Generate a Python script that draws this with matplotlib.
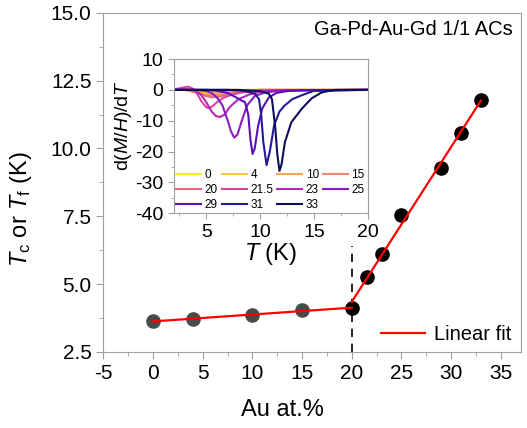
import numpy as np
import matplotlib
matplotlib.use('Agg')
import matplotlib.pyplot as plt
from matplotlib.ticker import MultipleLocator, AutoMinorLocator

plt.rcParams['font.family'] = ['Liberation Sans', 'DejaVu Sans']
plt.rcParams['mathtext.fontset'] = 'custom'
plt.rcParams['mathtext.rm'] = 'Liberation Sans'
plt.rcParams['mathtext.it'] = 'Liberation Sans:italic'
plt.rcParams['axes.unicode_minus'] = False

# main data: transition temperature vs Au content
au = [0, 4, 10, 15, 20, 21.5, 23, 25, 29, 31, 33]
tc = [3.63, 3.71, 3.86, 4.04, 4.11, 5.26, 6.10, 7.55, 9.28, 10.57, 11.80]

# inset: d(M/H)/dT curves, one per composition
labels = ['0', '4', '10', '15', '20', '21.5', '23', '25', '29', '31', '33']
colors = ['#f2f01e', '#f8c848', '#f9a452', '#f28670', '#e46a7c', '#d8489a',
          '#b428b4', '#8a1cc4', '#5a10b4', '#241a94', '#0e0e58']
T0 = [2, 3, 3.5, 4, 4.5, 5, 6, 8, 20]
d0 = [0, 0, -0.2, -0.5, -0.4, -0.2, -0.1, 0, 0]
T4 = [2, 3, 3.5, 4.2, 5, 6, 7, 9, 20]
d4 = [0, 0, -0.4, -1.0, -0.8, -0.5, -0.2, 0, 0]
T10 = [2, 3, 4, 4.8, 5.5, 6.5, 8, 10, 20]
d10 = [0, 0, -0.6, -1.5, -1.3, -0.8, -0.3, 0, 0]
T15 = [2, 3, 4, 5, 5.8, 7, 8.5, 10, 20]
d15 = [0, 0.1, -0.8, -1.9, -1.8, -1.2, -0.5, -0.1, 0]
T20 = [2, 3, 4, 4.8, 5.5, 6.2, 7, 8.5, 10, 20]
d20 = [0, 0.2, -0.6, -1.8, -2.4, -2.2, -1.6, -0.7, -0.2, 0]
T21 = [2, 2.5, 3, 3.4, 3.8, 4.2, 4.6, 5.0, 5.2, 5.5, 6, 6.5, 7, 8, 9, 10, 20]
d21 = [0.2, 0.5, 0.9, 1.0, 0.3, -1.5, -4, -5.6, -5.9, -5.5, -4, -2.8, -2, -1, -0.4, 0, 0]
T23 = [2, 3, 3.5, 4, 4.5, 5, 5.5, 5.9, 6.3, 6.7, 7.2, 8, 9, 10, 11, 20]
d23 = [0, 0.2, 0.1, -0.3, -1.5, -4, -7, -8.5, -8.8, -8, -5.5, -3, -1.5, -0.6, -0.2, 0]
T25 = [2, 4, 5, 5.5, 6, 6.5, 7, 7.3, 7.6, 7.9, 8.3, 8.8, 9.5, 10.5, 12, 20]
d25 = [0, 0, -0.4, -1, -2.5, -5, -10, -13.5, -15.5, -14.5, -10, -5, -2, -0.8, -0.2, 0]
T29 = [2, 5, 6, 7, 7.8, 8.3, 8.6, 8.9, 9.1, 9.3, 9.5, 9.8, 10.2, 10.8, 11.5, 12.5, 14, 20]
d29 = [0, 0, -0.3, -1, -2.5, -3.5, -4, -8, -16, -20.8, -19, -12, -6, -2.5, -1, -0.4, -0.1, 0]
T31 = [2, 7, 8.5, 9.5, 9.9, 10.1, 10.3, 10.6, 10.9, 11.3, 11.8, 12.3, 13, 13.9, 15, 20]
d31 = [0, 0, -0.3, -1.2, -3, -8, -17, -24.4, -20, -11.5, -7, -5, -3, -1.7, -0.3, 0]
T33 = [2, 8, 10, 10.8, 11.1, 11.4, 11.6, 11.8, 12.0, 12.3, 12.9, 13.9, 14.8, 15.4, 15.6, 16, 17, 20]
d33 = [0, 0, -0.4, -1.2, -3, -12, -21, -26.3, -24, -17, -10.5, -6, -2.7, -1.5, -1, -0.6, 0, 0]
Tlist = [T0, T4, T10, T15, T20, T21, T23, T25, T29, T31, T33]
dlist = [d0, d4, d10, d15, d20, d21, d23, d25, d29, d31, d33]

spine_c = '#a0a0a0'

fig = plt.figure(figsize=(5.27, 4.28), dpi=100)
ax = fig.add_axes([0.196, 0.178, 0.792, 0.792])

au = np.array(au)
tc = np.array(tc)
lo = au <= 20
hi = au >= 20
p_lo = np.polyfit(au[lo], tc[lo], 1)
p_hi = np.polyfit(au[hi], tc[hi], 1)
xl = np.array([0, 20])
xh = np.array([20, 33])

ax.plot([20, 20], [2.5, 6.4], '--', color='k', lw=1.2, dashes=(5, 4))
ax.plot(xl, np.polyval(p_lo, xl), color='red', lw=1.6, zorder=3)
ax.plot(xh, np.polyval(p_hi, xh), color='red', lw=1.6, zorder=3, label='Linear fit')
ax.plot(au[au < 20], tc[au < 20], 'o', color='#4a4a4a', ms=9.5, zorder=2)
ax.plot(au[au >= 20], tc[au >= 20], 'o', color='k', ms=9.5, zorder=2)

ax.set_xlim(-5, 37)
ax.set_ylim(2.5, 15)
ax.xaxis.set_major_locator(MultipleLocator(5))
ax.xaxis.set_minor_locator(AutoMinorLocator(2))
ax.yaxis.set_major_locator(MultipleLocator(2.5))
ax.yaxis.set_minor_locator(AutoMinorLocator(2))
ax.yaxis.set_major_formatter(plt.FormatStrFormatter('%.1f'))
for s in ax.spines.values():
    s.set_color(spine_c)
ax.tick_params(which='both', direction='out', color=spine_c, labelsize=15)
ax.tick_params(which='major', length=5)
ax.tick_params(which='minor', length=3)
ax.set_xlabel('Au at.%', fontsize=17)
ax.xaxis.set_label_coords(0.43, -0.14)
ax.set_ylabel(r'$T_\mathrm{c}$ or $T_\mathrm{f}$ (K)', fontsize=17)
ax.yaxis.set_label_coords(-0.167, 0.42)
ax.text(0.982, 0.95, 'Ga-Pd-Au-Gd 1/1 ACs', transform=ax.transAxes,
        ha='right', va='center', fontsize=14.5)
ax.legend(loc='center right', bbox_to_anchor=(1.02, 0.05), frameon=False,
          handlelength=2.2, handletextpad=0.4, fontsize=14.5)

# inset
ins = fig.add_axes([0.330, 0.502, 0.368, 0.360])
for T, d, c, lab in zip(Tlist, dlist, colors, labels):
    ins.plot(T, d, color=c, lw=1.5, label=lab)
ins.set_xlim(2, 20)
ins.set_ylim(-40, 10)
ins.xaxis.set_major_locator(MultipleLocator(5))
ins.xaxis.set_minor_locator(AutoMinorLocator(2))
ins.yaxis.set_major_locator(MultipleLocator(10))
ins.yaxis.set_minor_locator(AutoMinorLocator(2))
for s in ins.spines.values():
    s.set_color(spine_c)
ins.tick_params(which='both', direction='out', color=spine_c, labelsize=14)
ins.tick_params(which='major', length=4)
ins.tick_params(which='minor', length=2)
ins.set_xlabel(r'$T$ (K)', fontsize=17, labelpad=0)
ins.set_ylabel(r'd($M$/$H$)/d$T$', fontsize=14)
ins.yaxis.set_label_coords(-0.205, 0.57)

# legend filled row by row, 4 per row
h, l = ins.get_legend_handles_labels()
order = [0, 4, 8, 1, 5, 9, 2, 6, 10, 3, 7]
ins.legend([h[i] for i in order], [l[i] for i in order], loc='lower left',
           ncol=4, frameon=False, fontsize=8.5, handlelength=2.1,
           columnspacing=0.35, handletextpad=0.3, labelspacing=0.25,
           borderaxespad=0.1, borderpad=0.1)

fig.savefig('out.png', dpi=100)
